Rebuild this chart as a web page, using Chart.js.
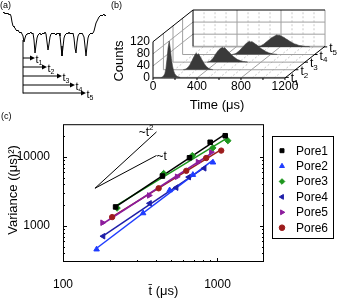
<!DOCTYPE html>
<html>
<head>
<meta charset="utf-8">
<script src="https://cdn.jsdelivr.net/npm/chart.js@4.4.1/dist/chart.umd.min.js"></script>
<style>
  html, body { margin: 0; padding: 0; background: #fff; }
  body { position: relative; width: 339px; height: 301px; overflow: hidden; }
  canvas { position: absolute; }
</style>
</head>
<body>
<canvas id="traceChart" width="110" height="105" style="left:0;top:0"></canvas>
<canvas id="histChart" width="229" height="112" style="left:110px;top:0"></canvas>
<canvas id="varChart" width="339" height="189" style="left:0;top:112px"></canvas>
<script>
const FONT = '"Liberation Sans", Arial, sans-serif';
Chart.defaults.font.family = FONT;
Chart.defaults.color = '#000';

// (a) current trace, arbitrary units, one sample per step
const traceStart = 3;
const traceLevel = [
  47, 48, 46, 47, 46, 47, 45, 46, 44, 38,
  34, 33, 32, 30, 29, 30, 28, 27, 28, 26,
  24, 18, 22, 25, 26, 27, 26, 27, 28, 26,
  27, 20, 7, 15, 22, 25, 26, 27, 25, 26,
  27, 26, 28, 26, 18, 10, 16, 23, 26, 27,
  26, 27, 26, 25, 27, 26, 27, 24, 14, 4,
  13, 22, 25, 26, 27, 26, 28, 26, 27, 26,
  27, 22, 12, 7, 18, 24, 26, 27, 26, 27,
  25, 23, 14, 4, 14, 22, 25, 26, 27, 26,
  27, 29, 33, 37, 39, 41, 43, 44, 45, 44,
  45, 46, 44, 45
];
const arrowStart = 23;
const arrowTop = 20;
const arrowEnds = [35, 47, 62, 75, 86];
const arrowLevels = [2, -7, -16, -25, -33];

// (b) dwell time histograms, 10 us bins
const binWidth = 10;
const histStart = [80, 190, 320, 460, 600];
const histCounts = [
  [2, 5, 12, 28, 60, 98, 120, 95, 62, 38, 22, 12, 7, 4, 2, 1],
  [1, 2, 4, 7, 11, 16, 23, 30, 38, 45, 52, 55, 50, 53, 46, 40, 33, 27, 21, 16, 11, 8, 5, 3, 2, 1],
  [1, 2, 4, 7, 11, 16, 22, 28, 33, 38, 42, 45, 47, 49, 46, 48, 44, 40, 36, 33, 29, 25, 22, 18, 15, 13, 10, 8, 7, 5, 4, 3, 2, 2, 1, 1],
  [1, 2, 3, 5, 8, 11, 14, 18, 22, 26, 30, 34, 37, 40, 42, 44, 41, 43, 40, 38, 35, 33, 30, 27, 24, 21, 18, 16, 14, 11, 9, 8, 6, 5, 4, 3, 2, 2, 1, 1],
  [1, 2, 3, 5, 7, 9, 12, 15, 18, 21, 24, 27, 30, 32, 34, 36, 38, 40, 38, 39, 37, 36, 34, 32, 30, 27, 25, 23, 20, 18, 16, 14, 12, 10, 9, 8, 6, 5, 4, 4, 3, 2, 2, 1, 1, 1, 1]
];
const laneDepth = [0.02, 0.26, 0.5, 0.74, 0.98];
const laneNames = ['1', '2', '3', '4', '5'];
const timeTicks = [0, 400, 800, 1200];
const countTicks = [0, 40, 80, 120];
const timeMax = 1200, countMax = 120;
const depthTime = 364, depthCount = 105;

// (c) variance vs mean time
const poreNames = ['Pore1', 'Pore2', 'Pore3', 'Pore4', 'Pore5', 'Pore6'];
const poreColors = ['#000000', '#1f3cff', '#1d961d', '#1e1ea8', '#8c1c9c', '#9c1c1c'];
const poreStyles = ['rect', 'triangle', 'rectRot', 'triangle', 'triangle', 'circle'];
const poreRotation = [0, 0, 0, 270, 90, 0];
const poreTimes = [
  [219, 440, 659, 897, 1122],
  [165, 330, 490, 693, 935],
  [224, 448, 687, 933, 1167],
  [182, 364, 541, 653, 822],
  [180, 361, 547, 747, 911],
  [208, 416, 628, 845, 1057]
];
const poreVariance = [
  [1890, 5300, 9770, 16400, 20400],
  [458, 1535, 3300, 5530, 8370],
  [1820, 5770, 10500, 13600, 17300],
  [710, 2130, 3600, 5120, 6870],
  [1115, 2775, 5180, 8480, 11790],
  [1345, 3520, 6310, 9680, 12420]
];
const guideTimes = [403, 161, 403];
const guideVariance = [23200, 3525, 10540];
const xTickLabels = [100, 1000];
const yTickLabels = [1000, 10000];

function seg(ctx, a, b) {
  ctx.beginPath();
  ctx.moveTo(a[0], a[1]);
  ctx.lineTo(b[0], b[1]);
  ctx.stroke();
}

function subLabel(ctx, x, y, main, sub, size, subSize, up) {
  ctx.font = size + 'px ' + FONT;
  ctx.textAlign = 'left';
  ctx.textBaseline = 'alphabetic';
  ctx.fillText(main, x, y);
  const w = ctx.measureText(main).width;
  ctx.font = subSize + 'px ' + FONT;
  ctx.fillText(sub, x + w, up ? y - size * 0.45 : y + subSize * 0.35);
  return w + ctx.measureText(sub).width;
}

// ---------- (a) ----------
const arrowPlugin = {
  id: 'arrows',
  afterDatasetsDraw(chart) {
    const { ctx } = chart;
    const xs = chart.scales.x, ys = chart.scales.y;
    const x0 = xs.getPixelForValue(arrowStart);
    ctx.save();
    ctx.strokeStyle = '#000';
    ctx.fillStyle = '#000';
    ctx.lineWidth = 1;
    seg(ctx, [x0, ys.getPixelForValue(arrowTop)], [x0, ys.getPixelForValue(arrowLevels[arrowLevels.length - 1]) + 0.5]);
    arrowEnds.forEach((t, i) => {
      const y = ys.getPixelForValue(arrowLevels[i]);
      const x1 = xs.getPixelForValue(t);
      seg(ctx, [x0, y], [x1 - 4, y]);
      ctx.beginPath();
      ctx.moveTo(x1, y);
      ctx.lineTo(x1 - 5, y - 2.5);
      ctx.lineTo(x1 - 5, y + 2.5);
      ctx.closePath();
      ctx.fill();
      subLabel(ctx, x1 + 0.5, y + 4.5, 't', laneNames[i], 11, 7, false);
    });
    ctx.font = '9px ' + FONT;
    ctx.textBaseline = 'middle';
    ctx.fillText('(a)', 0, 6);
    ctx.restore();
  }
};

new Chart(document.getElementById('traceChart'), {
  type: 'line',
  data: {
    datasets: [{
      data: traceLevel.map((v, i) => ({ x: traceStart + i, y: v })),
      borderColor: '#000',
      borderWidth: 1,
      pointRadius: 0,
      tension: 0
    }]
  },
  options: {
    responsive: false,
    animation: false,
    events: [],
    layout: { padding: 0 },
    plugins: { legend: { display: false }, tooltip: { enabled: false } },
    scales: {
      x: { type: 'linear', display: false, min: 0, max: 110 },
      y: { type: 'linear', display: false, min: -45, max: 60 }
    }
  },
  plugins: [arrowPlugin]
});

// ---------- (b) ----------
function proj(chart, t, c, d) {
  return [chart.scales.x.getPixelForValue(t + d * depthTime),
          chart.scales.y.getPixelForValue(c + d * depthCount)];
}

const boxPlugin = {
  id: 'box3d',
  beforeDatasetsDraw(chart) {
    const { ctx } = chart;
    const P = (t, c, d) => proj(chart, t, c, d);
    ctx.save();
    ctx.lineWidth = 1;
    ctx.strokeStyle = '#c8c8c8';
    ctx.setLineDash([2, 2]);
    for (let t = 100; t < timeMax; t += 100) {
      if (t % 400 === 0) continue;
      seg(ctx, P(t, 0, 1), P(t, countMax, 1));
      seg(ctx, P(t, 0, 0), P(t, 0, 1));
    }
    ctx.setLineDash([]);
    ctx.strokeStyle = '#a0a0a0';
    [400, 800].forEach(t => {
      seg(ctx, P(t, 0, 1), P(t, countMax, 1));
      seg(ctx, P(t, 0, 0), P(t, 0, 1));
    });
    [40, 80].forEach(c => {
      seg(ctx, P(0, c, 1), P(timeMax, c, 1));
      seg(ctx, P(0, c, 0), P(0, c, 1));
    });
    laneDepth.slice(1, 4).forEach(d => seg(ctx, P(0, 0, d), P(0, countMax, d)));
    laneDepth.forEach(d => seg(ctx, P(0, 0, d), P(timeMax, 0, d)));
    seg(ctx, P(0, 0, 1), P(timeMax, 0, 1));
    seg(ctx, P(timeMax, 0, 1), P(timeMax, countMax, 1));
    ctx.strokeStyle = '#000';
    seg(ctx, P(0, countMax, 0), P(0, countMax, 1));
    seg(ctx, P(0, countMax, 1), P(timeMax, countMax, 1));
    seg(ctx, P(0, 0, 1), P(0, countMax, 1));
    ctx.restore();
  },
  afterDatasetsDraw(chart) {
    const { ctx } = chart;
    const P = (t, c, d) => proj(chart, t, c, d);
    ctx.save();
    ctx.lineWidth = 1;
    ctx.strokeStyle = '#000';
    ctx.fillStyle = '#000';
    seg(ctx, P(0, 0, 0), P(timeMax, 0, 0));
    seg(ctx, P(0, 0, 0), P(0, countMax, 0));
    seg(ctx, P(timeMax, 0, 0), P(timeMax, 0, 1));
    for (let t = 0; t <= timeMax; t += 200) {
      const p = P(t, 0, 0);
      seg(ctx, p, [p[0], p[1] + 2]);
    }
    ctx.font = '12px ' + FONT;
    ctx.textBaseline = 'middle';
    ctx.textAlign = 'center';
    timeTicks.forEach(t => {
      const p = P(t, 0, 0);
      ctx.fillText(String(t), p[0], p[1] + 9);
    });
    ctx.textAlign = 'right';
    countTicks.forEach(c => {
      const p = P(0, c, 0);
      ctx.fillText(String(c), p[0] - 3, p[1]);
    });
    laneDepth.forEach((d, i) => {
      const p = P(timeMax, 0, d);
      seg(ctx, p, [p[0] + 3, p[1]]);
      subLabel(ctx, p[0] + 5, p[1] + 5, 't', laneNames[i], 12, 8, false);
    });
    ctx.font = '13px ' + FONT;
    ctx.textAlign = 'center';
    ctx.textBaseline = 'middle';
    ctx.fillText('Time (\u03bcs)', 107, 105);
    ctx.save();
    ctx.translate(9, 61);
    ctx.rotate(-Math.PI / 2);
    ctx.fillText('Counts', 0, 0);
    ctx.restore();
    ctx.font = '9px ' + FONT;
    ctx.textAlign = 'left';
    ctx.fillText('(b)', 1, 6);
    ctx.restore();
  }
};

const histDatasets = histCounts.map((counts, i) => {
  const d = laneDepth[i];
  const pts = [{ x: histStart[i] - binWidth + d * depthTime, y: d * depthCount }];
  counts.forEach((c, k) => pts.push({ x: histStart[i] + k * binWidth + d * depthTime, y: c + d * depthCount }));
  pts.push({ x: histStart[i] + counts.length * binWidth + d * depthTime, y: d * depthCount });
  return {
    data: pts,
    borderColor: '#3a3a3a',
    backgroundColor: '#3a3a3a',
    borderWidth: 0.6,
    pointRadius: 0,
    tension: 0,
    fill: { value: d * depthCount }
  };
});

new Chart(document.getElementById('histChart'), {
  type: 'line',
  data: { datasets: histDatasets },
  options: {
    responsive: false,
    animation: false,
    events: [],
    layout: { padding: { left: 43, right: 14, top: 10, bottom: 34 } },
    plugins: { legend: { display: false }, tooltip: { enabled: false } },
    scales: {
      x: { type: 'linear', display: false, min: 0, max: timeMax + depthTime },
      y: { type: 'linear', display: false, min: 0, max: countMax + depthCount }
    }
  },
  plugins: [boxPlugin]
});

// ---------- (c) ----------
function fitLine(ts, vs) {
  const lx = ts.map(Math.log10), ly = vs.map(Math.log10);
  const n = lx.length;
  const mx = lx.reduce((a, b) => a + b) / n, my = ly.reduce((a, b) => a + b) / n;
  let sxy = 0, sxx = 0;
  for (let i = 0; i < n; i++) { sxy += (lx[i] - mx) * (ly[i] - my); sxx += (lx[i] - mx) ** 2; }
  const b = sxy / sxx, a = my - b * mx;
  const x0 = Math.min(...ts), x1 = Math.max(...ts);
  return [{ x: x0, y: 10 ** (a + b * Math.log10(x0)) }, { x: x1, y: 10 ** (a + b * Math.log10(x1)) }];
}

const pointSets = poreNames.map((name, i) => ({
  label: name,
  data: poreTimes[i].map((t, k) => ({ x: t, y: poreVariance[i][k] })),
  showLine: false,
  pointStyle: poreStyles[i],
  rotation: poreRotation[i],
  pointRadius: poreStyles[i] === 'circle' ? 2.7 : 3.2,
  borderWidth: 1,
  borderColor: poreColors[i],
  backgroundColor: poreColors[i]
}));
const fitSets = poreNames.map((name, i) => ({
  label: name + ' fit',
  data: fitLine(poreTimes[i], poreVariance[i]),
  borderColor: poreColors[i],
  borderWidth: 1.5,
  pointRadius: 0,
  tension: 0
}));
const guideSet = {
  label: 'guide',
  data: guideTimes.map((t, k) => ({ x: t, y: guideVariance[k] })),
  borderColor: '#000',
  borderWidth: 1,
  pointRadius: 0,
  tension: 0
};

const isLabel = (v, list) => list.some(l => Math.abs(v - l) < l * 1e-6);

const framePlugin = {
  id: 'frame',
  afterDatasetsDraw(chart) {
    const { ctx, chartArea: a } = chart;
    const xs = chart.scales.x, ys = chart.scales.y;
    ctx.save();
    ctx.strokeStyle = '#000';
    ctx.fillStyle = '#000';
    ctx.lineWidth = 1;
    ctx.strokeRect(a.left + 0.5, a.top + 0.5, a.width - 1, a.height - 1);
    for (let e = 2; e <= 4; e++) {
      for (let m = 1; m <= 9; m++) {
        const v = m * 10 ** e;
        const len = m === 1 ? 4 : 2;
        if (v > xs.min && v < xs.max) {
          const x = Math.round(xs.getPixelForValue(v)) + 0.5;
          seg(ctx, [x, a.bottom], [x, a.bottom - len]);
        }
        if (v > ys.min && v < ys.max) {
          const y = Math.round(ys.getPixelForValue(v)) + 0.5;
          seg(ctx, [a.left, y], [a.left + len, y]);
          seg(ctx, [a.right, y], [a.right - len, y]);
        }
      }
    }
    // guide labels
    const gm = chart.getDatasetMeta(chart.data.datasets.length - 1).data;
    ctx.font = '12px ' + FONT;
    ctx.textAlign = 'left';
    const w = ctx.measureText('~t').width;
    ctx.font = '8px ' + FONT;
    const w2 = w + ctx.measureText('2').width;
    subLabel(ctx, gm[0].x - 3 - w2, gm[0].y + 4, '~t', '2', 12, 8, true);
    ctx.font = '12px ' + FONT;
    ctx.fillText('~t', gm[2].x, gm[2].y + 5);

    // axis titles
    ctx.textAlign = 'center';
    ctx.textBaseline = 'middle';
    ctx.font = '13px ' + FONT;
    ctx.fillText('t\u0304 (\u03bcs)', (a.left + a.right) / 2, 179);
    ctx.save();
    ctx.translate(13, 78);
    ctx.rotate(-Math.PI / 2);
    ctx.fillText('Variance ((\u03bcs)\u00b2)', 0, 0);
    ctx.restore();
    ctx.font = '9px ' + FONT;
    ctx.textAlign = 'left';
    ctx.fillText('(c)', 1, 5);

    // legend
    const bx = a.right + 8, by = 24, bw = 61, bh = 102;
    ctx.strokeRect(bx + 0.5, by + 0.5, bw, bh);
    ctx.font = '12px ' + FONT;
    ctx.textBaseline = 'middle';
    poreNames.forEach((name, i) => {
      const y = by + 14.7 + i * 15.4;
      ctx.fillStyle = poreColors[i];
      ctx.strokeStyle = poreColors[i];
      Chart.helpers.drawPoint(ctx, { pointStyle: poreStyles[i], rotation: poreRotation[i], radius: 2.8, borderWidth: 1 }, bx + 10, y);
      ctx.fillStyle = '#000';
      ctx.fillText(name, bx + 24, y + 0.5);
    });
    ctx.restore();
  }
};

new Chart(document.getElementById('varChart'), {
  type: 'line',
  data: { datasets: [...pointSets, ...fitSets, guideSet] },
  options: {
    responsive: false,
    animation: false,
    events: [],
    layout: { padding: { left: 0, right: 75, top: 11, bottom: 0 } },
    plugins: { legend: { display: false }, tooltip: { enabled: false } },
    scales: {
      x: {
        type: 'logarithmic', min: 100, max: 2000,
        grid: { display: false }, border: { display: false },
        ticks: { autoSkip: false, maxRotation: 0, padding: 7, font: { size: 12 }, color: '#000',
                 callback: v => isLabel(v, xTickLabels) ? String(Math.round(v)) : '' },
        afterFit: s => { s.height = 39; }
      },
      y: {
        type: 'logarithmic', min: 300, max: 30000,
        grid: { display: false }, border: { display: false },
        ticks: { autoSkip: false, padding: 5, font: { size: 12 }, color: '#000',
                 callback: v => isLabel(v, yTickLabels) ? String(Math.round(v)) : '' },
        afterFit: s => { s.width = 63; }
      }
    }
  },
  plugins: [framePlugin]
});
</script>
</body>
</html>
